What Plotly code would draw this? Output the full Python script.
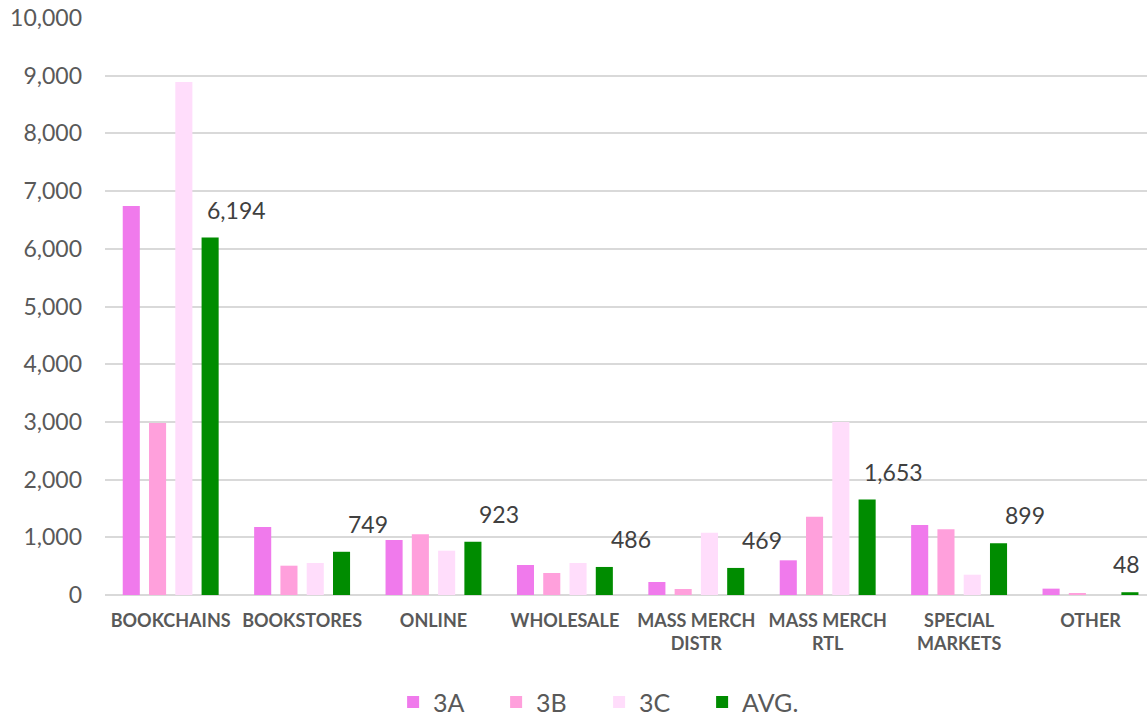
import plotly.graph_objects as go

# categories and series
channels = ["BOOKCHAINS", "BOOKSTORES", "ONLINE", "WHOLESALE",
            "MASS MERCH<br>DISTR", "MASS MERCH<br>RTL", "SPECIAL<br>MARKETS", "OTHER"]
s3a = [6740, 1180, 953, 520, 225, 601, 1213, 110]
s3b = [2980, 508, 1052, 381, 104, 1357, 1139, 25]
s3c = [8890, 555, 768, 555, 1080, 3000, 352, 0]
avg = [6194, 749, 923, 486, 469, 1653, 899, 48]
avg_labels = ["6,194", "749", "923", "486", "469", "1,653", "899", "48"]

xs = list(range(len(channels)))
x_end = 7.43  # chart is cropped a little on the right, like the original

fig = go.Figure()
for name, vals, col in [("3A", s3a, "#F07AEC"), ("3B", s3b, "#FFA0DC"),
                        ("3C", s3c, "#FFDDFB"), ("AVG.", avg, "#008C00")]:
    fig.add_trace(go.Bar(x=xs, y=vals, name=name, marker_color=col,
                         marker_line_width=0))

# labels for the AVG series (sit up and to the right, like the original)
for i, v in enumerate(avg):
    last = i == len(avg) - 1
    fig.add_annotation(x=x_end if last else i + 0.5, y=v, text=avg_labels[i],
                       showarrow=False, yshift=28, xshift=-5 if last else 0,
                       xanchor="right" if last else "center", yanchor="middle",
                       font=dict(size=23, color="#404040"))

fig.update_layout(
    width=1147, height=719,
    margin=dict(l=105, r=0, t=18, b=124, autoexpand=False),
    barmode="group", bargap=0.2, bargroupgap=0.35,
    plot_bgcolor="white", paper_bgcolor="white",
    font=dict(family="Lato, DejaVu Sans, sans-serif", color="#595959"),
    legend=dict(orientation="h", x=0.2765, xanchor="left", y=-0.186, yanchor="middle",
                font=dict(size=25, color="#595959"), entrywidth=58,
                entrywidthmode="pixels", traceorder="normal"),
    showlegend=True,
)
fig.update_xaxes(tickvals=xs, ticktext=["<b>%s</b>" % c for c in channels],
                 range=[-0.5, x_end], tickfont=dict(size=18, color="#595959"),
                 showgrid=False, showline=False, zeroline=False, ticks="",
                 ticklabelstandoff=13, automargin=False)
fig.update_yaxes(range=[0, 10000], dtick=1000, tickformat=",d",
                 showgrid=True, gridcolor="#D9D9D9", gridwidth=1.5,
                 zeroline=True, zerolinecolor="#D9D9D9", zerolinewidth=1.5,
                 tickfont=dict(size=23, color="#595959"), ticklabelstandoff=22,
                 ticklabeloverflow="allow", automargin=False)

# drop the default page margin so the figure sits at the window's corner
fig.write_html("out.html", config={"displayModeBar": False},
               post_script="document.body.style.margin='0';")
